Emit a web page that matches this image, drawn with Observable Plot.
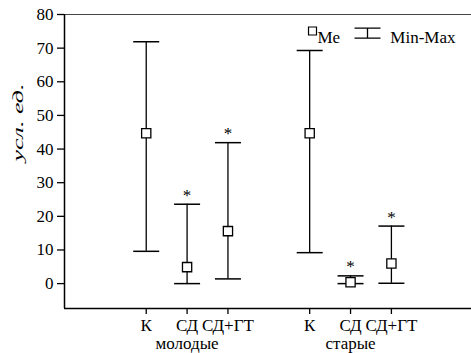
<!DOCTYPE html>
<html><head><meta charset="utf-8">
<script src="https://cdn.jsdelivr.net/npm/d3@7"></script>
<script src="https://cdn.jsdelivr.net/npm/@observablehq/plot@0.6"></script>
<style>html,body{margin:0;padding:0;background:#fff} svg{display:block} #warm{position:absolute;left:-9999px;top:0;font-family:"Liberation Serif";}</style>
</head><body><div id="warm">К СД+ГТ молодые старые 0123456789 Me Min-Max <i>усл. ед.</i></div><div id="chart"></div>
<script>
const categories = ["К","СД","СД+ГТ","К","СД","СД+ГТ"];
const groups = ["молодые","молодые","молодые","старые","старые","старые"];
const groupNames = ["молодые","старые"];
const medians = [44.7, 4.9, 15.6, 44.7, 0.4, 6.0];
const mins = [9.6, 0, 1.4, 9.2, 0, 0.1];
const maxs = [71.9, 23.6, 41.9, 69.3, 2.3, 17.1];
const significant = [false, true, true, false, true, true];
const yTicks = [0, 10, 20, 30, 40, 50, 60, 70, 80];
const yLabel = "усл. ед.";
const legendMe = "Me";
const legendRange = "Min-Max";

const FONT = "Liberation Serif, Times New Roman, DejaVu Serif, serif";
const FS = 17;

const pos = i => i + (i >= 3 ? 1 : 0);
const data = categories.map((c, i) => ({cat: c, group: groups[i], x: pos(i), me: medians[i], min: mins[i], max: maxs[i], sig: significant[i]}));
const groupData = groupNames.map(g => ({group: g, x: d3.mean(data.filter(d => d.group === g), d => d.x)}));
const tickLabel = new Map(data.map(d => [d.x, d.cat]));

const cap = {draw(ctx) { ctx.moveTo(-13, 0); ctx.lineTo(13, 0); }};
const ibar = {draw(ctx) {
  ctx.moveTo(-13, -5); ctx.lineTo(13, -5);
  ctx.moveTo(0, -5); ctx.lineTo(0, 5);
  ctx.moveTo(-13, 5); ctx.lineTo(13, 5);
}};

const chart = Plot.plot({
  width: 471, height: 353,
  marginTop: 14, marginBottom: 45, marginLeft: 64, marginRight: 0,
  style: {fontFamily: FONT, fontSize: FS + "px"},
  x: {domain: [-2, 7.96], axis: null},
  y: {domain: [-7.4, 80], axis: null},
  marks: [
    Plot.ruleY([80], {stroke: "#444", strokeWidth: 1}),
    Plot.ruleY([-7.4], {stroke: "#000", strokeWidth: 1.5}),
    Plot.ruleX([-2], {stroke: "#000", strokeWidth: 1.5}),
    Plot.axisY(yTicks, {tickSize: 7, tickPadding: 4, fontSize: FS, fontFamily: FONT, label: null, stroke: "#000", strokeWidth: 1.3}),
    Plot.axisX(data.map(d => d.x), {tickSize: 6, tickPadding: 4, fontSize: FS, fontFamily: FONT, label: null, tickFormat: d => tickLabel.get(d), stroke: "#000", strokeWidth: 1.3}),
    Plot.text(groupData, {x: "x", text: "group", frameAnchor: "bottom", lineAnchor: "top", dy: 28, fontSize: FS, fontFamily: FONT}),
    Plot.text([yLabel], {text: d => d, frameAnchor: "left", rotate: -90, dx: -46, fontStyle: "italic", fontSize: 15, fontFamily: FONT}),
    Plot.ruleX(data, {x: "x", y1: "min", y2: "max", stroke: "#000", strokeWidth: 1.3}),
    Plot.dot(data, {x: "x", y: "max", symbol: cap, fill: "none", stroke: "#000", strokeWidth: 1.5}),
    Plot.dot(data, {x: "x", y: "min", symbol: cap, fill: "none", stroke: "#000", strokeWidth: 1.5}),
    Plot.dot(data, {x: "x", y: "me", symbol: "square", r: 5.2, fill: "#fff", stroke: "#000", strokeWidth: 1.3}),
    Plot.text(data.filter(d => d.sig), {x: "x", y: "max", text: () => "*", dy: -9, fontSize: FS, fontFamily: FONT}),
    Plot.dot([0], {frameAnchor: "top-right", dx: -159, dy: 16.5, symbol: "square", r: 4.5, fill: "#fff", stroke: "#000", strokeWidth: 1.2}),
    Plot.text([legendMe], {text: d => d, frameAnchor: "top-right", textAnchor: "start", dx: -154, dy: 16.3, fontSize: FS, fontFamily: FONT}),
    Plot.dot([0], {frameAnchor: "top-right", dx: -104, dy: 18.7, symbol: ibar, fill: "none", stroke: "#000", strokeWidth: 1.3}),
    Plot.text([legendRange], {text: d => d, frameAnchor: "top-right", textAnchor: "end", dx: -16, dy: 16.3, fontSize: FS, fontFamily: FONT})
  ]
});
chart.setAttribute("font-family", FONT);
chart.style.background = "#fff";
chart.querySelectorAll("text").forEach(t => { t.setAttribute("font-family", FONT); t.style.fontFamily = FONT; });
const yl = [...chart.querySelectorAll("text")].find(t => t.textContent === yLabel);
if (yl) { yl.setAttribute("textLength", 78); yl.setAttribute("lengthAdjust", "spacingAndGlyphs"); }
document.getElementById("chart").appendChild(chart);
</script>
</body></html>
